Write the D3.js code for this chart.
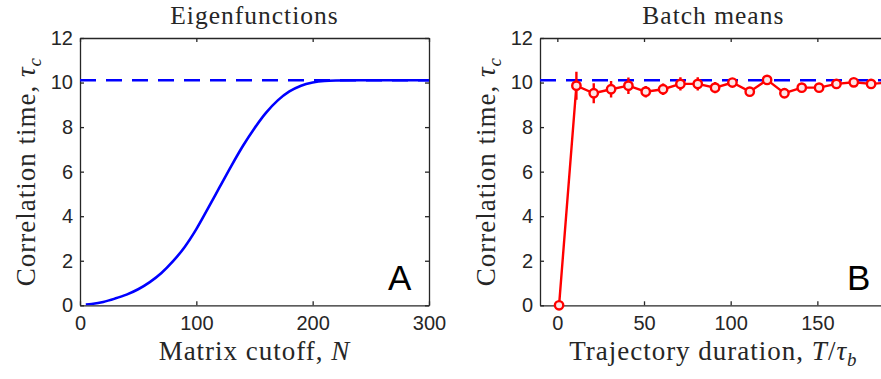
<!DOCTYPE html>
<html lang="en">
<head>
<meta charset="UTF-8">
<script src="https://d3js.org/d3.v7.min.js"></script>
<style>
  body { margin: 0; background: #fff; }
  svg { display: block; }
  .tick text { font-family: "Liberation Sans", Arial, sans-serif; font-size: 20px; fill: #262626; }
  .lab { font-family: "Liberation Serif", "Times New Roman", serif; fill: #262626; letter-spacing: 1px; }
</style>
</head>
<body>
<svg width="881" height="379"></svg>
<script>
// panel A: correlation time from the eigenfunction expansion vs matrix cutoff
var eigN   = [5, 10, 20, 30, 40, 50, 60, 70, 80, 90, 100, 110, 120, 130, 140, 150, 160, 170, 180, 190, 200, 210, 220, 240, 260, 280, 300];
var eigTau = [0.03, 0.06, 0.15, 0.30, 0.48, 0.72, 1.04, 1.45, 1.98, 2.62, 3.42, 4.35, 5.30, 6.25, 7.15, 7.95, 8.65, 9.20, 9.60, 9.86, 10.0, 10.07, 10.09, 10.1, 10.1, 10.1, 10.1];
var tauExact = 10.1;

// panel B: batch means estimate vs trajectory duration
var batchT   = [1, 11, 21, 31, 41, 51, 61, 71, 81, 91, 101, 111, 121, 131, 141, 151, 161, 171, 181, 191];
var batchTau = [0, 9.86, 9.52, 9.70, 9.86, 9.59, 9.70, 9.94, 9.94, 9.77, 10.0, 9.59, 10.12, 9.52, 9.77, 9.77, 9.94, 10.01, 9.94, 10.0];
var batchErr = [0, 0.63, 0.45, 0.37, 0.37, 0.26, 0.26, 0.30, 0.30, 0.25, 0.20, 0.20, 0.20, 0.20, 0.20, 0.18, 0.18, 0.18, 0.18, 0.18];

var yTicks  = [0, 2, 4, 6, 8, 10, 12];
var xTicksA = [0, 100, 200, 300];
var xTicksB = [0, 50, 100, 150];

var svg = d3.select("svg");
var top0 = 38, bottom0 = 305.3;
var ink = "#262626";

function tauLabel(sel) {
    sel.append("tspan").text("Correlation time, ");
    sel.append("tspan").attr("font-style", "italic").text("τ");
    sel.append("tspan").attr("font-style", "italic").attr("font-size", "0.7em").attr("dy", "0.3em").text("c");
}

function drawPanel(p) {
    var x = d3.scaleLinear().domain(p.xdomain).range([p.left, p.right]);
    var y = d3.scaleLinear().domain([0, 12]).range([bottom0, top0]);
    var g = svg.append("g");

    var clipId = "clip" + p.name;
    g.append("clipPath").attr("id", clipId).append("rect")
        .attr("x", p.left).attr("y", top0).attr("width", p.right - p.left).attr("height", bottom0 - top0);

    // box axes with inward ticks
    function style(a) {
        a.select(".domain").attr("stroke", ink).attr("stroke-width", 1.3);
        a.selectAll(".tick line").attr("stroke", ink).attr("stroke-width", 1.3);
    }
    g.append("g").attr("transform", "translate(0," + bottom0 + ")")
        .call(d3.axisBottom(x).tickValues(p.xticks).tickSizeInner(-4).tickSizeOuter(0).tickPadding(11))
        .call(style);
    g.append("g").attr("transform", "translate(0," + top0 + ")")
        .call(d3.axisTop(x).tickValues(p.xticks).tickSizeInner(-4).tickSizeOuter(0).tickFormat(""))
        .call(style);
    g.append("g").attr("transform", "translate(" + p.left + ",0)")
        .call(d3.axisLeft(y).tickValues(yTicks).tickSizeInner(-4).tickSizeOuter(0).tickPadding(7))
        .call(style);
    g.append("g").attr("transform", "translate(" + p.right + ",0)")
        .call(d3.axisRight(y).tickValues(yTicks).tickSizeInner(-4).tickSizeOuter(0).tickFormat(""))
        .call(style);
    g.selectAll(".tick text").attr("fill", ink);

    var plot = g.append("g").attr("clip-path", "url(#" + clipId + ")");

    // exact value
    plot.append("line")
        .attr("x1", p.left).attr("x2", p.right)
        .attr("y1", y(tauExact)).attr("y2", y(tauExact))
        .attr("stroke", "#0000ff").attr("stroke-width", 2.6)
        .attr("stroke-dasharray", "16,10");

    p.drawData(plot, x, y);

    // titles and labels
    var cx = (p.left + p.right) / 2;
    g.append("text").attr("class", "lab").attr("x", cx).attr("y", 23.5)
        .attr("text-anchor", "middle").attr("font-size", "25.5px").text(p.title);
    var xl = g.append("text").attr("class", "lab").attr("x", cx).attr("y", 360)
        .attr("text-anchor", "middle").attr("font-size", "27px");
    p.xlabel(xl);
    g.append("text").attr("class", "lab")
        .attr("transform", "translate(" + (p.left - 45) + "," + ((top0 + bottom0) / 2) + ") rotate(-90)")
        .attr("text-anchor", "middle").attr("font-size", "27px")
        .call(tauLabel);
    g.append("text").attr("x", p.letterX).attr("y", 290)
        .attr("font-family", "Liberation Sans, Arial, sans-serif").attr("font-size", "35px")
        .attr("fill", "#000").text(p.name);
}

drawPanel({
    name: "A",
    title: "Eigenfunctions",
    left: 80, right: 429,
    xdomain: [0, 300],
    xticks: xTicksA,
    letterX: 388,
    xlabel: function (t) {
        t.append("tspan").text("Matrix cutoff, ");
        t.append("tspan").attr("font-style", "italic").text("N");
    },
    drawData: function (plot, x, y) {
        var line = d3.line().curve(d3.curveMonotoneX)
            .x(function (d, i) { return x(eigN[i]); })
            .y(function (d) { return y(d); });
        plot.append("path").datum(eigTau)
            .attr("d", line).attr("fill", "none")
            .attr("stroke", "#0000ff").attr("stroke-width", 2.6);
    }
});

drawPanel({
    name: "B",
    title: "Batch means",
    left: 540, right: 886.7,
    xdomain: [-10, 190],
    xticks: xTicksB,
    letterX: 847,
    xlabel: function (t) {
        t.append("tspan").text("Trajectory duration, ");
        t.append("tspan").attr("font-style", "italic").text("T");
        t.append("tspan").text("/");
        t.append("tspan").attr("font-style", "italic").text("τ");
        t.append("tspan").attr("font-style", "italic").attr("font-size", "0.7em").attr("dy", "0.3em").text("b");
    },
    drawData: function (plot, x, y) {
        var red = "#ff0000";
        plot.selectAll("line.err").data(batchTau).enter().append("line")
            .attr("class", "err")
            .attr("x1", function (d, i) { return x(batchT[i]); })
            .attr("x2", function (d, i) { return x(batchT[i]); })
            .attr("y1", function (d, i) { return y(d - batchErr[i]); })
            .attr("y2", function (d, i) { return y(d + batchErr[i]); })
            .attr("stroke", red).attr("stroke-width", 2.4);
        var line = d3.line()
            .x(function (d, i) { return x(batchT[i]); })
            .y(function (d) { return y(d); });
        plot.append("path").datum(batchTau)
            .attr("d", line).attr("fill", "none")
            .attr("stroke", red).attr("stroke-width", 2.4);
        svg.append("g").selectAll("circle").data(batchTau).enter().append("circle")
            .attr("cx", function (d, i) { return x(batchT[i]); })
            .attr("cy", function (d) { return y(d); })
            .attr("r", 4.2)
            .attr("fill", "#fde6e6").attr("stroke", red).attr("stroke-width", 2.4);
    }
});
</script>
</body>
</html>
